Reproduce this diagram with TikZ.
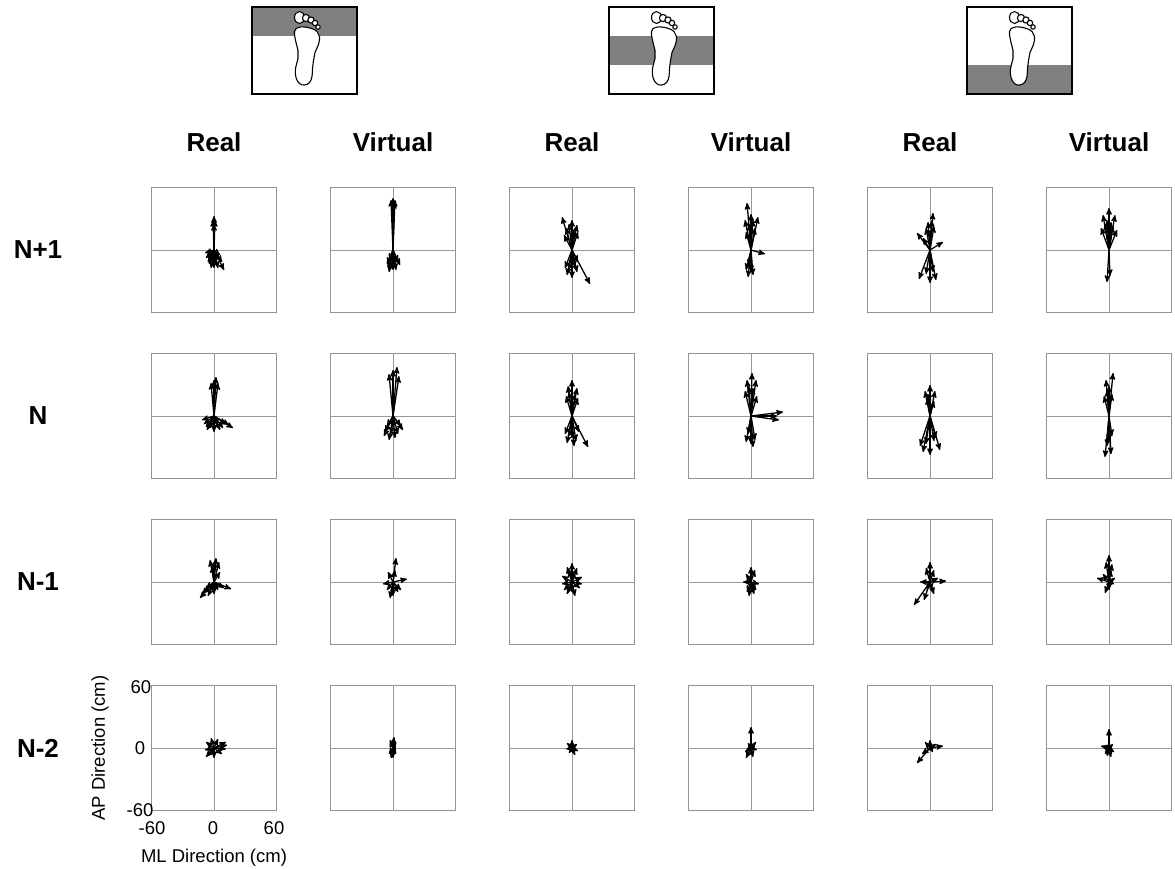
\documentclass[tikz,border=0pt]{standalone}
\usepackage{fontspec}
\setmainfont{Liberation Sans}
\usetikzlibrary{arrows}

\begin{document}
\begin{tikzpicture}[x=1pt,y=-1pt,->,>=stealth',
  panel/.style={draw=gray!85,line width=1.5pt,minimum size=125pt,inner sep=0pt},
  cross/.style={-,draw=gray!80,line width=1pt},
  vec/.style={black,line width=1.3pt},
  head/.style={font=\fontsize{26}{30}\selectfont\bfseries},
  tick/.style={font=\fontsize{18.5}{22}\selectfont},
  icon/.style={draw,line width=1.5pt,minimum width=105pt,minimum height=87pt,inner sep=0pt},
  toe/.style={-,draw,fill=white,line width=1.1pt}]

  \useasboundingbox (0,0) rectangle (1175,868);

  % foot icons
  \foreach \x/\b [count=\i] in {304.5/0,661.5/1,1019.5/2}{
    \fill[black!50] (\x-52.5,7+29*\b) rectangle ++(105,29);
    \node[icon] (foot\i) at (\x,50.5) {};
    \begin{scope}[shift={(\x,50.5)}]
      \draw[toe] plot[smooth cycle,tension=0.7] coordinates {(-10,-19) (-6,-23) (0,-23.5) (7,-22) (12.5,-19)
        (15,-14) (14,-6) (10.5,2) (9,10) (8,18) (7.5,26) (5,32) (0,34.5) (-5,33) (-8.5,27)
        (-9,18) (-6.5,8) (-6.5,0) (-8.5,-8)};
      \draw[toe] (-5,-33) ellipse (5 and 6);
      \draw[toe] (1.5,-32.5) circle (3.6);
      \draw[toe] (6.5,-30.5) circle (3.1);
      \draw[toe] (10.5,-27.5) circle (2.7);
      \draw[toe] (13.5,-23.5) circle (2.2);
    \end{scope}
  }

  % column and row heads
  \foreach \x/\t [count=\c] in {214/Real,393/Virtual,572/Real,751/Virtual,930/Real,1109/Virtual}
    \node[head] (col\c) at (\x,142) {\t};
  \foreach \y/\t [count=\r] in {250/N+1,416/N,582/N-1,748/N-2}
    \node[head] (row\r) at (38,\y) {\t};

  % panels
  \foreach \y [count=\r] in {250,416,582,748}
    \foreach \x [count=\c] in {214,393,572,751,930,1109}{
      \node[panel] (p\r\c) at (\x,\y) {};
      \draw[cross] (p\r\c.north) -- (p\r\c.south);
      \draw[cross] (p\r\c.west) -- (p\r\c.east);
    }

  % axes of the last panel
  \node[tick] (t1) at (141,687) {60};
  \node[tick] (t2) at (140,748) {0};
  \node[tick] (t3) at (140,810) {-60};
  \node[tick] (t4) at (152,828) {-60};
  \node[tick] (t5) at (213,828) {0};
  \node[tick] (t6) at (274,828) {60};
  \node[tick,rotate=90] (aplab) at (100,748) {AP Direction (cm)};
  \node[tick] (mllab) at (214,858) {ML Direction (cm)};

  % N+1
  \foreach \dx/\dy in {0/-34,-1/-30,1/-30,0/-26,-8/8,-5/14,4/18,8/12,10/20,-3/18,6/5,-9/3,-6/12,2/14,-2/10,5/10,-7/6,0/18}
    \draw[vec] (p11.center) -- ++(\dx,\dy);
  \foreach \dx/\dy in {-2/-50,0/-52,2/-50,1/-48,-5/18,-4/22,3/20,7/15,-2/12,-6/14,0/20,-4/10,2/16,5/12}
    \draw[vec] (p12.center) -- ++(\dx,\dy);
  \foreach \dx/\dy in {-10/-33,-6/-22,5/-25,0/-30,-8/-15,6/-18,-3/-26,2/-20,18/34,-5/25,5/22,0/28,-7/18,-3/20,3/17,6/12}
    \draw[vec] (p13.center) -- ++(\dx,\dy);
  \foreach \dx/\dy in {-4/-47,7/-33,-6/-30,0/-36,4/-22,-5/-18,-2/-26,2/-30,14/4,-3/27,2/25,-5/20,0/22,-2/16}
    \draw[vec] (p14.center) -- ++(\dx,\dy);
  \foreach \dx/\dy in {3/-37,-13/-17,13/-8,-2/-28,4/-24,-7/-12,0/-20,-4/-22,2/-30,-11/29,0/33,6/30,-4/24,3/22}
    \draw[vec] (p15.center) -- ++(\dx,\dy);
  \foreach \dx/\dy in {0/-42,-6/-35,6/-35,-8/-22,8/-20,-2/-30,2/-28,-4/-26,4/-24,0/-18,-2/32,1/26}
    \draw[vec] (p16.center) -- ++(\dx,\dy);

  % N
  \foreach \dx/\dy in {2/-39,0/-36,-3/-33,4/-33,19/12,-10/8,-7/14,0/16,6/14,12/8,-12/4,4/10,15/9,-4/12,9/12,-8/11}
    \draw[vec] (p21.center) -- ++(\dx,\dy);
  \foreach \dx/\dy in {4/-49,0/-46,-4/-42,6/-40,-8/16,-4/24,2/22,8/10,10/14,-6/10,-9/20,-2/18,5/18,0/12}
    \draw[vec] (p22.center) -- ++(\dx,\dy);
  \foreach \dx/\dy in {0/-36,-4/-30,5/-28,-6/-20,6/-18,-3/-24,3/-22,16/31,-5/27,4/25,0/22,-7/18,7/16,-3/20,2/30}
    \draw[vec] (p23.center) -- ++(\dx,\dy);
  \foreach \dx/\dy in {1/-43,-4/-36,5/-36,-6/-25,6/-20,-2/-30,2/-28,32/-4,28/4,26/0,2/31,-5/26,4/24,0/28,-3/18}
    \draw[vec] (p24.center) -- ++(\dx,\dy);
  \foreach \dx/\dy in {0/-31,-5/-25,5/-25,-3/-18,4/-15,-2/-22,-7/36,10/34,0/39,-10/30,4/25,-4/28,6/22}
    \draw[vec] (p25.center) -- ++(\dx,\dy);
  \foreach \dx/\dy in {4/-43,-3/-36,0/-30,-5/-20,3/-22,-2/-26,-4/41,2/38,-2/30,3/20,0/25}
    \draw[vec] (p26.center) -- ++(\dx,\dy);

  % N-1
  \foreach \dx/\dy in {-4/-22,2/-24,5/-20,-2/-16,-12/12,-14/16,-6/14,17/7,10/6,0/12,-8/6,6/-10,-10/10,-4/9,4/8,0/-18}
    \draw[vec] (p31.center) -- ++(\dx,\dy);
  \foreach \dx/\dy in {3/-24,14/-3,-10/2,-5/-10,0/14,-3/16,5/10,8/8,-6/8,2/-12}
    \draw[vec] (p32.center) -- ++(\dx,\dy);
  \foreach \dx/\dy in {0/-19,-5/-15,5/-14,-10/-6,10/-5,-8/8,8/6,-5/12,3/14,0/10,-10/2,10/2,-3/-12,3/-10}
    \draw[vec] (p33.center) -- ++(\dx,\dy);
  \foreach \dx/\dy in {0/-15,4/-12,-8/0,-5/-8,8/2,5/8,-2/14,-4/10,3/12,0/8}
    \draw[vec] (p34.center) -- ++(\dx,\dy);
  \foreach \dx/\dy in {0/-20,-4/-14,4/-12,16/-1,-10/0,-16/23,-6/18,4/12,2/8,8/-4,-3/8}
    \draw[vec] (p35.center) -- ++(\dx,\dy);
  \foreach \dx/\dy in {0/-27,-3/-20,3/-18,-12/-4,-6/-8,6/-4,5/2,-4/11,0/8,2/-12}
    \draw[vec] (p36.center) -- ++(\dx,\dy);

  % N-2
  \foreach \dx/\dy in {-8/-6,-3/-10,4/-9,12/-6,13/-3,-9/2,-8/9,0/10,8/6,12/1,-5/6}
    \draw[vec] (p41.center) -- ++(\dx,\dy);
  \foreach \dx/\dy in {1/-11,-3/-8,3/-6,-4/6,0/10,3/6,-2/10}
    \draw[vec] (p42.center) -- ++(\dx,\dy);
  \foreach \dx/\dy in {-5/-5,0/-8,5/-4,6/3,3/7,-3/5,-6/1}
    \draw[vec] (p43.center) -- ++(\dx,\dy);
  \foreach \dx/\dy in {0/-21,-6/4,-5/10,5/-6,6/2,2/9,-3/-5}
    \draw[vec] (p44.center) -- ++(\dx,\dy);
  \foreach \dx/\dy in {-13/15,13/-2,-5/-6,0/-8,6/-4,-8/6,3/4}
    \draw[vec] (p45.center) -- ++(\dx,\dy);
  \foreach \dx/\dy in {0/-19,-8/-2,4/-4,-2/8,2/9,5/4,-4/6}
    \draw[vec] (p46.center) -- ++(\dx,\dy);
\end{tikzpicture}
\end{document}
